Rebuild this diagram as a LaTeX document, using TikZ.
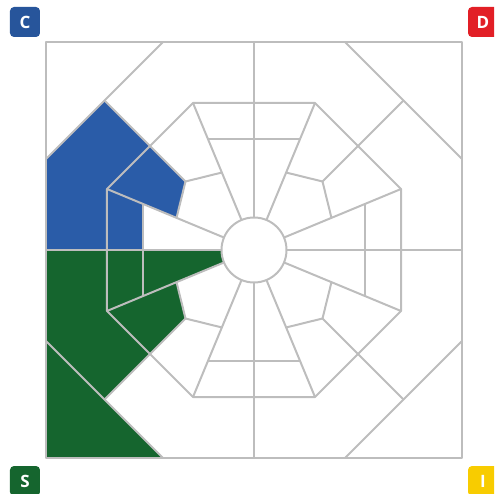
\documentclass[tikz,border=0pt]{standalone}
\usepackage{fontspec}
\setmainfont{Open Sans}
\definecolor{cblue}{HTML}{2A5CA8}
\definecolor{sgreen}{HTML}{15652E}
\definecolor{dred}{HTML}{E21F26}
\definecolor{iyellow}{HTML}{F8CC00}
\definecolor{gridgray}{HTML}{BDBDBD}
\tikzset{
  gridline/.style={draw=gridgray,line width=2pt,line join=round},
  lettbox/.style={rounded corners=4pt,minimum width=30pt,minimum height=30pt,inner sep=0pt,
    text=white,font=\bfseries\fontsize{17}{17}\selectfont},
}
\begin{document}
\begin{tikzpicture}[x=1pt,y=1pt]
\useasboundingbox (-254,-244) rectangle (240,250);
\clip (-254,-244) rectangle (240,250);
% coloured cells
\fill[cblue] (-208,91) -- (-149.5,149.5) -- (-104,104) -- (-147,61) -- (-147,0) -- (-208,0) -- cycle;
\fill[cblue] (-104,104) -- (-68.5,68.5) -- (-77.47,32.15) -- (-147,61) -- cycle;
\fill[cblue] (-147,61) -- (-111,46.06) -- (-111,0) -- (-147,0) -- cycle;
\fill[sgreen] (-208,-91) -- (-208,-208) -- (-91,-208) -- cycle;
\fill[sgreen] (-208,0) -- (-147,0) -- (-147,-61) -- (-104,-104) -- (-149.5,-149.5) -- (-208,-91) -- cycle;
\fill[sgreen] (-147,0) -- (-111,0) -- (-111,-46.06) -- (-147,-61) -- cycle;
\fill[sgreen] (-111,0) -- (-32.5,0) arc[start angle=180,end angle=202.54,radius=32.5] -- (-111,-46.06) -- cycle;
\fill[sgreen] (-147,-61) -- (-77.47,-32.15) -- (-68.5,-68.5) -- (-104,-104) -- cycle;
% grid lines
\draw[gridline] (-208,-208) rectangle (208,208);
\draw[gridline] (61,147) -- (147,61) -- (147,-61) -- (61,-147) -- (-61,-147) -- (-147,-61) -- (-147,61) -- (-61,147) -- cycle;
\draw[gridline] (0,0) circle[radius=32.5];
\draw[gridline] (0,208) -- (0,32.5);
\draw[gridline] (0,-208) -- (0,-32.5);
\draw[gridline] (208,0) -- (32.5,0);
\draw[gridline] (-208,0) -- (-32.5,0);
\draw[gridline] (-46.06,111) -- (46.06,111);
\draw[gridline] (-46.06,-111) -- (46.06,-111);
\draw[gridline] (111,-46.06) -- (111,46.06);
\draw[gridline] (-111,-46.06) -- (-111,46.06);
\foreach \sx in {1,-1}{
  \foreach \sy in {1,-1}{
    \draw[gridline] (\sx*61,\sy*147) -- (\sx*12.46,\sy*30.02);
    \draw[gridline] (\sx*147,\sy*61) -- (\sx*30.02,\sy*12.46);
    \draw[gridline] (\sx*32.15,\sy*77.47) -- (\sx*68.5,\sy*68.5) -- (\sx*77.47,\sy*32.15);
    \draw[gridline] (\sx*68.5,\sy*68.5) -- (\sx*149.5,\sy*149.5);
    \draw[gridline] (\sx*208,\sy*91) -- (\sx*91,\sy*208);
  }
}
% letter boxes
\node[lettbox,fill=cblue!92!black] (c) at (-229,228) {C};
\node[lettbox,fill=dred] (d) at (229,228) {D};
\node[lettbox,fill=sgreen] (s) at (-229,-231) {S};
\node[lettbox,fill=iyellow] (i) at (229,-231) {I};
\end{tikzpicture}
\end{document}
